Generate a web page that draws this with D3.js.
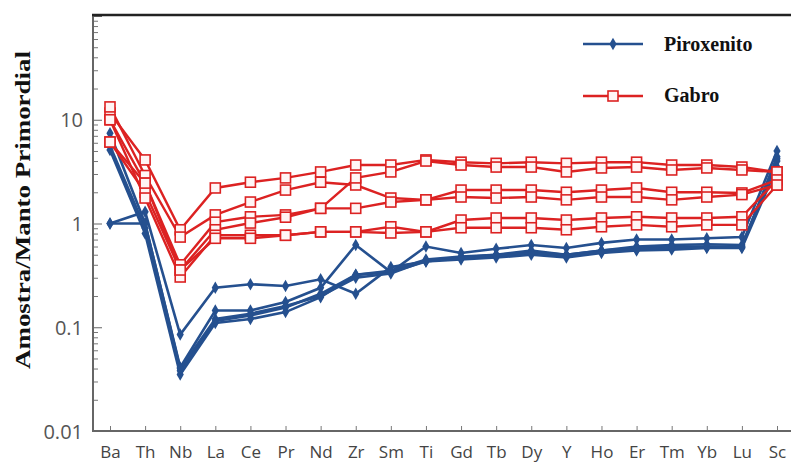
<!DOCTYPE html>
<html lang="en">
<head>
    <meta charset="UTF-8">
    <script src="https://d3js.org/d3.v7.min.js"></script>
    <style>
        body { margin: 0; background: #fff; }
        .tick-label { font-family: "Open Sans"; font-size: 20px; fill: #555; }
        .cat-label { font-family: "Open Sans"; font-size: 17px; fill: #444; }
        .ylab { font-family: "Liberation Serif"; font-weight: bold; font-size: 22px; fill: #111; }
        .legend { font-family: "Liberation Serif"; font-weight: bold; font-size: 20px; fill: #111; }
    </style>
</head>
<body>
<svg id="chart" width="791" height="464"></svg>
<script>
    // elements on the x axis
    const elements = ["Ba","Th","Nb","La","Ce","Pr","Nd","Zr","Sm","Ti","Gd","Tb","Dy","Y","Ho","Er","Tm","Yb","Lu","Sc"];
    const yTicks = [0.01, 0.1, 1, 10];

    // Piroxenito samples (blue)
    const pirox1 = [1.0, 1.3, 0.085, 0.24, 0.26, 0.25, 0.29, 0.21, 0.38, 0.43, 0.47, 0.5, 0.55, 0.5, 0.55, 0.6, 0.62, 0.63, 0.62, 4.0];
    const pirox2 = [7.4, 1.0, 0.041, 0.145, 0.145, 0.175, 0.24, 0.62, 0.34, 0.6, 0.52, 0.57, 0.62, 0.58, 0.65, 0.7, 0.7, 0.72, 0.74, 5.0];
    const pirox3 = [5.1, 0.8, 0.035, 0.11, 0.12, 0.14, 0.195, 0.32, 0.34, 0.43, 0.45, 0.47, 0.5, 0.47, 0.52, 0.55, 0.56, 0.58, 0.58, 3.5];
    const pirox4 = [5.6, 0.9, 0.038, 0.115, 0.13, 0.155, 0.21, 0.32, 0.35, 0.45, 0.48, 0.5, 0.53, 0.5, 0.55, 0.58, 0.6, 0.6, 0.6, 4.2];
    const pirox5 = [1.0, 1.0, 0.04, 0.12, 0.135, 0.16, 0.2, 0.3, 0.33, 0.44, 0.46, 0.49, 0.52, 0.49, 0.53, 0.56, 0.58, 0.59, 0.59, 4.4];

    // Gabro samples (red)
    const gabro1 = [11.6, 4.1, 0.87, 2.2, 2.5, 2.75, 3.14, 3.66, 3.66, 4.1, 3.9, 3.8, 3.9, 3.8, 3.9, 3.9, 3.66, 3.66, 3.5, 3.14];
    const gabro2 = [13.3, 2.9, 0.74, 1.21, 1.61, 2.1, 2.5, 2.35, 1.76, 1.69, 2.1, 2.1, 2.1, 2.0, 2.1, 2.2, 2.0, 2.0, 1.97, 2.63];
    const gabro3 = [10, 2.45, 0.4, 1.03, 1.16, 1.21, 1.4, 2.75, 3.14, 4.0, 3.66, 3.5, 3.5, 3.14, 3.43, 3.5, 3.28, 3.43, 3.28, 3.14];
    const gabro4 = [6.1, 2.0, 0.356, 0.87, 1.01, 1.15, 1.4, 1.4, 1.61, 1.69, 1.8, 1.76, 1.8, 1.69, 1.8, 1.8, 1.69, 1.8, 1.9, 2.35];
    const gabro5 = [10, 1.76, 0.305, 0.77, 0.77, 0.77, 0.83, 0.83, 0.93, 0.83, 1.08, 1.13, 1.13, 1.08, 1.13, 1.16, 1.13, 1.13, 1.16, 2.63];
    const gabro6 = [6.1, 2.45, 0.356, 0.72, 0.72, 0.77, 0.83, 0.83, 0.81, 0.83, 0.91, 0.91, 0.91, 0.87, 0.93, 0.97, 0.93, 0.97, 0.97, 2.35];

    const piroxSeries = [pirox1, pirox2, pirox3, pirox4, pirox5];
    const gabroSeries = [gabro1, gabro2, gabro3, gabro4, gabro5, gabro6];

    const blue = "#25508f";
    const red = "#dc2222";

    const svg = d3.select("#chart");
    const plotLeft = 93, plotRight = 791, plotTop = 15, plotBottom = 431;

    const x = d3.scalePoint().domain(elements).range([110, 777]);
    const y = d3.scaleLog().domain([0.01, 100]).range([plotBottom, plotTop + 1]);

    // minor ticks on the left axis
    const minor = [];
    for (let e = -2; e < 2; e++) {
        for (let m = 2; m <= 9; m++) minor.push(m * Math.pow(10, e));
    }
    svg.append("g")
        .attr("transform", "translate(" + plotLeft + ",0)")
        .call(d3.axisLeft(y).tickValues(minor).tickSize(-5).tickFormat(""))
        .call(g => g.select(".domain").remove())
        .call(g => g.selectAll("line").attr("stroke", "#777"));

    // major ticks + labels
    svg.append("g")
        .attr("transform", "translate(" + plotLeft + ",0)")
        .call(d3.axisLeft(y).tickValues(yTicks.concat([100])).tickSize(-9).tickPadding(10)
            .tickFormat(d => d === 100 ? "" : String(d)))
        .call(g => g.select(".domain").remove())
        .call(g => g.selectAll("line").attr("stroke", "#666"))
        .call(g => g.selectAll("text").attr("class", "tick-label").attr("dy", "0.35em"));

    // bottom axis
    svg.append("g")
        .attr("transform", "translate(0," + plotBottom + ")")
        .call(d3.axisBottom(x).tickSize(-5).tickPadding(12))
        .call(g => g.select(".domain").remove())
        .call(g => g.selectAll("line").attr("stroke", "#777"))
        .call(g => g.selectAll("text").attr("class", "cat-label").attr("dy", "0.9em"));

    // frame
    svg.append("line").attr("x1", plotLeft).attr("x2", plotLeft).attr("y1", plotTop).attr("y2", plotBottom)
        .attr("stroke", "#666").attr("stroke-width", 2);
    svg.append("line").attr("x1", plotLeft - 1).attr("x2", plotRight).attr("y1", plotBottom).attr("y2", plotBottom)
        .attr("stroke", "#666").attr("stroke-width", 2);
    svg.append("line").attr("x1", plotLeft - 1).attr("x2", plotRight).attr("y1", plotTop).attr("y2", plotTop)
        .attr("stroke", "#222").attr("stroke-width", 2.5);

    const line = d3.line().x((d, i) => x(elements[i])).y(d => y(d));
    const diamond = d3.symbol().type(d3.symbolDiamond).size(45);

    // blue lines
    const pg = svg.append("g");
    piroxSeries.forEach(s => {
        pg.append("path").datum(s).attr("d", line)
            .attr("fill", "none").attr("stroke", blue).attr("stroke-width", 2.6);
        pg.selectAll(null).data(s).enter().append("path")
            .attr("d", diamond)
            .attr("transform", (d, i) => "translate(" + x(elements[i]) + "," + y(d) + ")")
            .attr("fill", blue);
    });

    // red lines
    const gg = svg.append("g");
    gabroSeries.forEach(s => {
        gg.append("path").datum(s).attr("d", line)
            .attr("fill", "none").attr("stroke", red).attr("stroke-width", 2.4);
    });
    gabroSeries.forEach(s => {
        gg.selectAll(null).data(s).enter().append("rect")
            .attr("x", (d, i) => x(elements[i]) - 5)
            .attr("y", d => y(d) - 5)
            .attr("width", 10).attr("height", 10)
            .attr("fill", "#fff5f5").attr("stroke", red).attr("stroke-width", 1.6);
    });

    // y axis title
    svg.append("text")
        .attr("class", "ylab")
        .attr("transform", "translate(30,210) rotate(-90)")
        .attr("text-anchor", "middle")
        .attr("textLength", 318)
        .attr("lengthAdjust", "spacingAndGlyphs")
        .text("Amostra/Manto Primordial");

    // legend
    const legend = svg.append("g");
    legend.append("line").attr("x1", 583).attr("x2", 643).attr("y1", 44).attr("y2", 44)
        .attr("stroke", blue).attr("stroke-width", 2.6);
    legend.append("path").attr("d", diamond).attr("transform", "translate(613,44)").attr("fill", blue);
    legend.append("text").attr("class", "legend").attr("x", 664).attr("y", 51).text("Piroxenito");
    legend.append("line").attr("x1", 583).attr("x2", 643).attr("y1", 96).attr("y2", 96)
        .attr("stroke", red).attr("stroke-width", 2.4);
    legend.append("rect").attr("x", 608).attr("y", 91).attr("width", 10).attr("height", 10)
        .attr("fill", "#fff5f5").attr("stroke", red).attr("stroke-width", 1.6);
    legend.append("text").attr("class", "legend").attr("x", 664).attr("y", 102).text("Gabro");
</script>
</body>
</html>
